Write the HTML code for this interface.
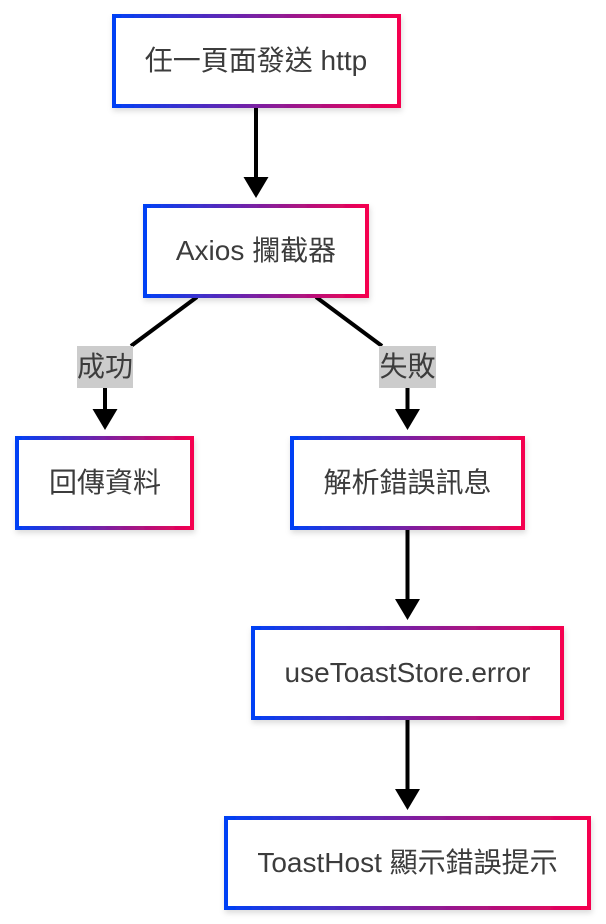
<!DOCTYPE html>
<html><head><meta charset="utf-8"><style>
html,body{margin:0;padding:0;background:#fff;width:606px;height:924px;overflow:hidden}
svg{display:block}
text{font-family:"Liberation Sans","Noto Sans CJK TC",sans-serif;font-size:28px;fill:#3c3c3c;text-anchor:middle}
</style></head><body>
<svg width="606" height="924" viewBox="0 0 606 924" xmlns="http://www.w3.org/2000/svg">
<defs>
<linearGradient id="g"><stop offset="0" stop-color="#0040f5"/><stop offset="1" stop-color="#f5004f"/></linearGradient>
<filter id="s" x="-10%" y="-20%" width="120%" height="140%"><feDropShadow dx="1" dy="3" stdDeviation="3" flood-color="#000" flood-opacity="0.14"/></filter>
</defs>
<g stroke="#000" stroke-width="4" fill="none">
<path d="M256 108V178"/>
<path d="M197 297L131 346"/>
<path d="M316 297L382 346"/>
<path d="M105 388V410"/>
<path d="M407.500 388V410"/>
<path d="M407.500 530V600"/>
<path d="M407.500 720V790"/>
</g>
<g fill="#000">
<path d="M243.500 177H268.500L256 198Z"/>
<path d="M92.500 409H117.500L105 430Z"/>
<path d="M395 409H420L407.500 430Z"/>
<path d="M395 599H420L407.500 620Z"/>
<path d="M395 789H420L407.500 810Z"/>
</g>
<g fill="#fff" stroke="url(#g)" stroke-width="4" filter="url(#s)">
<rect x="114" y="16" width="285" height="90"/>
<rect x="145" y="206" width="222" height="90"/>
<rect x="17" y="438" width="175" height="90"/>
<rect x="292" y="438" width="231" height="90"/>
<rect x="253" y="628" width="309" height="90"/>
<rect x="226" y="818" width="363" height="90"/>
</g>
<rect x="77" y="346" width="56" height="42" fill="#ccc"/>
<rect x="379" y="346" width="57" height="42" fill="#ccc"/>
<text x="256" y="70">任一頁面發送 http</text>
<text x="256" y="260">Axios 攔截器</text>
<text x="105" y="376">成功</text>
<text x="407.500" y="376">失敗</text>
<text x="105" y="492">回傳資料</text>
<text x="407.500" y="492">解析錯誤訊息</text>
<text x="407.500" y="682">useToastStore.error</text>
<text x="407.500" y="872">ToastHost 顯示錯誤提示</text>
</svg>
</body></html>
